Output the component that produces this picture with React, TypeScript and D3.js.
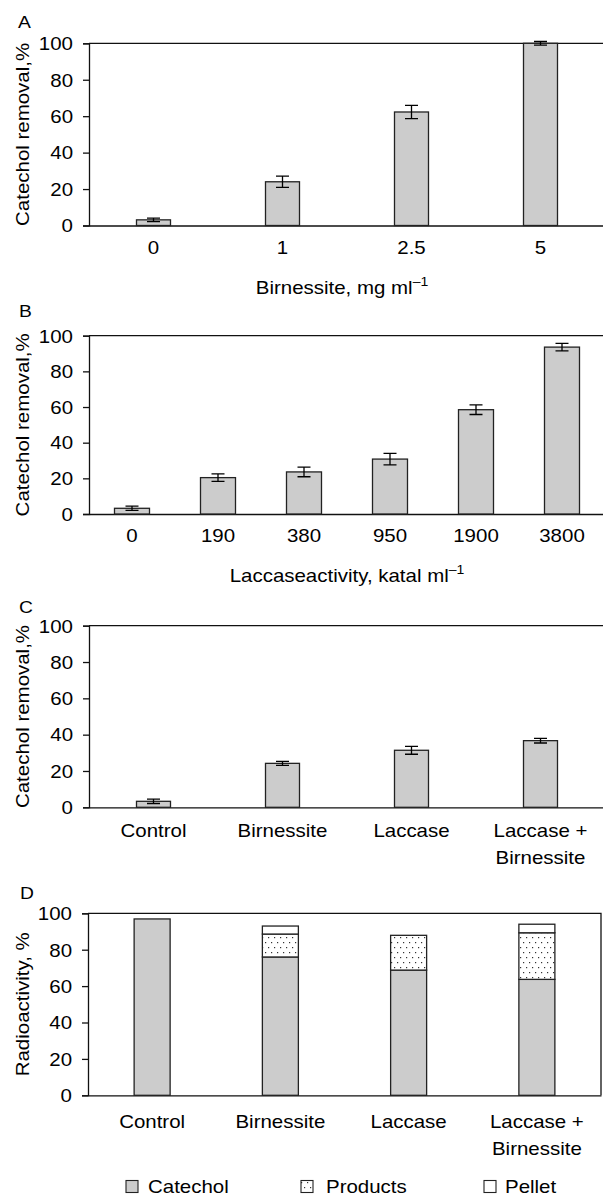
import React, { useRef, useEffect } from "react";
import * as d3 from "d3";

// panel A
const birnCats = ["0", "1", "2.5", "5"];
const birnValues = [3.1, 24, 62.3, 100];
const birnErrors = [1, 3.1, 3.6, 1];

// panel B
const laccCats = ["0", "190", "380", "950", "1900", "3800"];
const laccValues = [3.2, 20.4, 23.6, 30.8, 58.5, 93.6];
const laccErrors = [1.2, 2.1, 2.7, 3.2, 2.7, 2.1];

// panel C
const treatCats = ["Control", "Birnessite", "Laccase", "Laccase + Birnessite"];
const treatValues = [3.3, 24.2, 31.4, 36.7];
const treatErrors = [1.2, 1.1, 2.2, 1.3];

// panel D (stacked)
const catechol = [96.9, 76, 68.8, 63.7];
const products = [0, 12.6, 19.1, 25.6];
const pellet = [0, 4.4, 0, 4.7];
const fractionNames = ["Catechol", "Products", "Pellet"];

const yTicks = [0, 20, 40, 60, 80, 100];

const SX = 1.17; // reference type is wider than Liberation Sans
const FS = 17.5;
const W = 603;
const H = 1197;

function label(g, x, y, str, anchor = "middle", rotate = 0, size = FS) {
  return g
    .append("text")
    .attr("transform", `translate(${x},${y}) rotate(${rotate}) scale(${SX},1)`)
    .attr("text-anchor", anchor)
    .attr("font-size", size)
    .text(str);
}

function splitLabel(s) {
  const i = s.indexOf(" + ");
  return i < 0 ? [s] : [s.slice(0, i) + " +", s.slice(i + 3)];
}

function drawPanel(svg, cfg) {
  const g = svg.append("g");
  const y = d3.scaleLinear().domain([0, 100]).range([cfg.bottom, cfg.top]);
  const x = d3.scaleBand().domain(cfg.cats).range([cfg.left, cfg.right]);

  // frame: top line and right side
  g.append("path")
    .attr("d", `M${cfg.left},${y(100)}H${cfg.right}V${y(0)}`)
    .attr("fill", "none")
    .attr("stroke", "#111")
    .attr("stroke-width", 1.3);

  // y axis
  const ya = g
    .append("g")
    .attr("transform", `translate(${cfg.left},0)`)
    .call(d3.axisLeft(y).tickValues(yTicks).tickSize(6).tickPadding(10));
  ya.attr("font-size", FS).attr("font-family", null);
  ya.selectAll("path, line").attr("stroke", "#111").attr("stroke-width", 1.3);
  ya.selectAll("text")
    .attr("x", -16 / SX)
    .attr("dy", "0.36em")
    .attr("transform", `scale(${SX},1)`);

  // x axis (zero line + category labels)
  const xa = g
    .append("g")
    .attr("transform", `translate(0,${y(0)})`)
    .call(d3.axisBottom(x).tickSize(0).tickSizeOuter(0));
  xa.attr("font-size", FS).attr("font-family", null);
  xa.select(".domain").attr("stroke", "#111").attr("stroke-width", 1.3);
  xa.selectAll(".tick text").each(function (d) {
    const t = d3.select(this);
    t.text(null).attr("y", null).attr("dy", null).attr("transform", `scale(${SX},1)`);
    splitLabel(d).forEach((l, i) => {
      t.append("tspan").attr("x", 0).attr("y", cfg.tickOff + i * 27).text(l);
    });
  });

  const cx = (c) => x(c) + x.bandwidth() / 2;

  if (cfg.values) {
    const bw = cfg.barWidth;
    g.selectAll(".bar")
      .data(cfg.cats)
      .join("rect")
      .attr("x", (c) => cx(c) - bw / 2)
      .attr("y", (c, i) => y(cfg.values[i]))
      .attr("width", bw)
      .attr("height", (c, i) => y(0) - y(cfg.values[i]))
      .attr("fill", "#cccccc")
      .attr("stroke", "#222")
      .attr("stroke-width", 1.3);

    const cap = 6.5;
    g.selectAll(".err")
      .data(cfg.cats)
      .join("path")
      .attr("d", (c, i) => {
        const v = cfg.values[i];
        const e = cfg.errors[i];
        const xc = cx(c);
        const y1 = y(v - e);
        const y2 = y(v + e);
        return `M${xc - cap},${y1}H${xc + cap}M${xc},${y1}V${y2}M${xc - cap},${y2}H${xc + cap}`;
      })
      .attr("fill", "none")
      .attr("stroke", "#000")
      .attr("stroke-width", 1.3);
  }

  if (cfg.stack) {
    const bw = cfg.barWidth;
    const table = cfg.cats.map((c, i) => ({
      cat: c,
      Catechol: catechol[i],
      Products: products[i],
      Pellet: pellet[i],
    }));
    const series = d3.stack().keys(fractionNames)(table);
    const fills = { Catechol: "#cccccc", Products: "url(#dots)", Pellet: "#ffffff" };
    series.forEach((s) => {
      g.append("g")
        .selectAll("rect")
        .data(s.filter((d) => d[1] - d[0] > 0))
        .join("rect")
        .attr("x", (d) => cx(d.data.cat) - bw / 2)
        .attr("y", (d) => y(d[1]))
        .attr("width", bw)
        .attr("height", (d) => y(d[0]) - y(d[1]))
        .attr("fill", fills[s.key])
        .attr("stroke", "#222")
        .attr("stroke-width", 1.3);
    });
  }

  // panel letter
  label(g, cfg.letterX, cfg.letterY, cfg.letter, "start", 0, 16.5);

  // y title
  label(g, 29, (cfg.top + cfg.bottom) / 2, cfg.yTitle, "middle", -90);

  // x title with superscript
  if (cfg.xTitle) {
    const t = label(g, cfg.xTitleX, cfg.xTitleY, null, "middle");
    t.append("tspan").text(cfg.xTitle);
    t.append("tspan").attr("font-size", 12).attr("dy", -8).text("\u20131");
  }
}

export default function App() {
  const svgRef = useRef(null);

  useEffect(() => {
    const svg = d3.select(svgRef.current);
    svg.selectAll("g.chart").remove();
    const root = svg.append("g").attr("class", "chart");

    drawPanel(root, {
      letter: "A", letterX: 18, letterY: 28,
      top: 43.3, bottom: 225.5, left: 89, right: 605,
      cats: birnCats, values: birnValues, errors: birnErrors, barWidth: 34,
      tickOff: 29, yTitle: "Catechol removal,%",
      xTitle: "Birnessite, mg ml", xTitleX: 342, xTitleY: 294,
    });
    drawPanel(root, {
      letter: "B", letterX: 19, letterY: 316.7,
      top: 335.7, bottom: 514, left: 89, right: 605,
      cats: laccCats, values: laccValues, errors: laccErrors, barWidth: 35,
      tickOff: 27.7, yTitle: "Catechol removal,%",
      xTitle: "Laccaseactivity, katal ml", xTitleX: 347, xTitleY: 581.7,
    });
    drawPanel(root, {
      letter: "C", letterX: 19, letterY: 613,
      top: 625.7, bottom: 807.3, left: 89, right: 605,
      cats: treatCats, values: treatValues, errors: treatErrors, barWidth: 34,
      tickOff: 29.4, yTitle: "Catechol removal,%",
    });
    drawPanel(root, {
      letter: "D", letterX: 20, letterY: 899,
      top: 913.3, bottom: 1095.3, left: 88, right: 601,
      cats: treatCats, stack: true, barWidth: 36,
      tickOff: 33, yTitle: "Radioactivity, %",
    });

    // legend
    const legendFills = ["#cccccc", "url(#dots)", "#ffffff"];
    const legendBoxX = [126, 301, 484];
    const legendTextX = [148, 326, 505];
    const lg = root.append("g");
    fractionNames.forEach((name, i) => {
      lg.append("rect")
        .attr("x", legendBoxX[i])
        .attr("y", 1180.5)
        .attr("width", 12)
        .attr("height", 12)
        .attr("fill", legendFills[i])
        .attr("stroke", "#222")
        .attr("stroke-width", 1.1);
      label(lg, legendTextX[i], 1192.5, name, "start");
    });
  }, []);

  return (
    <svg
      ref={svgRef}
      width={W}
      height={H}
      style={{ position: "absolute", left: 0, top: 0, background: "#fff" }}
      fontFamily="'Liberation Sans', Arial, Helvetica, sans-serif"
    >
      <defs>
        <pattern id="dots" width="6" height="10" patternUnits="userSpaceOnUse">
          <rect width="6" height="10" fill="#fff" />
          <rect x="1" y="2" width="1.2" height="1.2" fill="#333" />
          <rect x="4" y="7" width="1.2" height="1.2" fill="#333" />
        </pattern>
      </defs>
    </svg>
  );
}
